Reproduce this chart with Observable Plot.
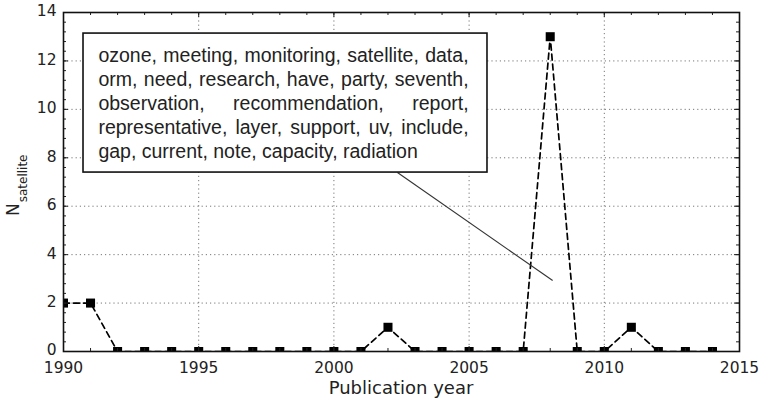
<!DOCTYPE html>
<html>
<head>
<meta charset="utf-8">
<script src="https://cdn.jsdelivr.net/npm/d3@7"></script>
<script src="https://cdn.jsdelivr.net/npm/@observablehq/plot@0.6"></script>
<style>
  html, body { margin: 0; padding: 0; background: #fff; }
</style>
</head>
<body>
<script>
// ---- data ----
const years  = [1990,1991,1992,1993,1994,1995,1996,1997,1998,1999,2000,2001,2002,2003,2004,2005,2006,2007,2008,2009,2010,2011,2012,2013,2014];
const counts = [2,2,0,0,0,0,0,0,0,0,0,0,1,0,0,0,0,0,13,0,0,1,0,0,0];
const xTickLabels = [1990,1995,2000,2005,2010,2015];
const yTickLabels = [0,2,4,6,8,10,12,14];
const keywordLines = [
  "ozone, meeting, monitoring, satellite, data,",
  "orm, need, research, have, party, seventh,",
  "observation, recommendation, report,",
  "representative, layer, support, uv, include,",
  "gap, current, note, capacity, radiation"
];
const xLabel = "Publication year";
const yLabelMain = "N";
const yLabelSub = "satellite";

// annotation anchors (data units)
const boxX = [1990.74, 2005.68];
const boxY = [7.39, 13.13];
const textX = [1991.29, 2004.98];
const textTopY = 12.22;
const textStepY = 0.99;
const arrowFrom = [2002.35, 7.39];
const arrowTo = [2008.09, 2.93];

const series = years.map((y, i) => ({year: y, n: counts[i]}));
const xMinor = d3.range(1990, 2016, 1);
const yMinor = d3.range(0, 14.001, 0.4);

const xDom = [1990, 2015], yDom = [0, 14];
const majX = 0.185, minX = 0.111, majY = 0.206, minY = 0.124;

const svg = Plot.plot({
  width: 760,
  height: 404,
  marginLeft: 63,
  marginRight: 21,
  marginTop: 12,
  marginBottom: 53,
  style: {fontFamily: "DejaVu Sans", fontSize: "15.5px", color: "#222", background: "#fff"},
  x: {domain: xDom, label: null},
  y: {domain: yDom, label: null},
  marks: [
    Plot.gridX(xTickLabels, {stroke: "#777", strokeOpacity: 1, strokeWidth: 1, strokeDasharray: "1.2,3"}),
    Plot.gridY(yTickLabels, {stroke: "#777", strokeOpacity: 1, strokeWidth: 1, strokeDasharray: "1.2,3"}),
    Plot.line(series, {x: "year", y: "n", stroke: "#000", strokeWidth: 1.7, strokeDasharray: "6,4", clip: true}),
    Plot.dot(series, {x: "year", y: "n", symbol: "square", r: 5.1, fill: "#000", stroke: "none", clip: true}),
    Plot.link([0], {x1: () => arrowFrom[0], y1: () => arrowFrom[1], x2: () => arrowTo[0], y2: () => arrowTo[1], stroke: "#333", strokeWidth: 1.1}),
    Plot.rect([0], {x1: () => boxX[0], x2: () => boxX[1], y1: () => boxY[0], y2: () => boxY[1], fill: "#fff", stroke: "#111", strokeWidth: 1.6}),
    Plot.text(keywordLines, {
      x: () => textX[0],
      y: (d, i) => textTopY - i * textStepY,
      text: d => d,
      textAnchor: "start",
      lineAnchor: "middle",
      fontFamily: "Liberation Sans",
      fontSize: 19.5,
      fill: "#222"
    }),
    // inward ticks
    Plot.ruleX(xMinor, {x: d => d, y1: () => 0, y2: () => minY, stroke: "#222", strokeWidth: 1}),
    Plot.ruleX(xMinor, {x: d => d, y1: () => 14, y2: () => 14 - minY, stroke: "#222", strokeWidth: 1}),
    Plot.ruleX(xTickLabels, {x: d => d, y1: () => 0, y2: () => majY, stroke: "#222", strokeWidth: 1}),
    Plot.ruleX(xTickLabels, {x: d => d, y1: () => 14, y2: () => 14 - majY, stroke: "#222", strokeWidth: 1}),
    Plot.ruleY(yMinor, {y: d => d, x1: () => 1990, x2: () => 1990 + minX, stroke: "#222", strokeWidth: 1}),
    Plot.ruleY(yMinor, {y: d => d, x1: () => 2015, x2: () => 2015 - minX, stroke: "#222", strokeWidth: 1}),
    Plot.ruleY(yTickLabels, {y: d => d, x1: () => 1990, x2: () => 1990 + majX, stroke: "#222", strokeWidth: 1}),
    Plot.ruleY(yTickLabels, {y: d => d, x1: () => 2015, x2: () => 2015 - majX, stroke: "#222", strokeWidth: 1}),
    Plot.frame({stroke: "#111", strokeWidth: 1.6}),
    Plot.axisX(xTickLabels, {tickSize: 0, tickPadding: 10, tickFormat: d => String(d), label: null, fill: "#222"}),
    Plot.axisY(yTickLabels, {tickSize: 0, tickPadding: 7, tickFormat: d => String(d), label: null, fill: "#222", dy: -1})
  ]
});
document.body.appendChild(svg);

// justify annotation lines (except the last) by placing each word
const xs = svg.scale("x");
const targetW = xs.apply(textX[1]) - xs.apply(textX[0]);
const ctx = document.createElement("canvas").getContext("2d");
ctx.font = "19.5px 'Liberation Sans'";
d3.select(svg).selectAll("text").each(function() {
  const t = this.textContent;
  const idx = keywordLines.indexOf(t);
  if (idx < 0 || idx === keywordLines.length - 1) return;
  const words = t.split(" ");
  if (words.length < 2) return;
  const widths = words.map(w => ctx.measureText(w).width);
  const total = d3.sum(widths);
  const gap = (targetW - total) / (words.length - 1);
  const x0 = +(this.getAttribute("x") || 0);
  this.textContent = "";
  let cx = x0;
  words.forEach((w, k) => {
    const ts = document.createElementNS("http://www.w3.org/2000/svg", "tspan");
    ts.setAttribute("x", cx);
    ts.textContent = w;
    this.appendChild(ts);
    cx += widths[k] + gap;
  });
});

// axis titles
const s = d3.select(svg);
const xr = svg.scale("x").range;
s.append("text")
  .attr("x", (xr[0] + xr[1]) / 2)
  .attr("y", 394)
  .attr("text-anchor", "middle")
  .attr("font-family", "DejaVu Sans")
  .attr("font-size", 18)
  .attr("fill", "#222")
  .text(xLabel);

const yt = s.append("text")
  .attr("transform", "translate(19,216) rotate(-90)")
  .attr("text-anchor", "start")
  .attr("font-family", "DejaVu Sans")
  .attr("font-size", 17)
  .attr("fill", "#222");
yt.append("tspan").text(yLabelMain);
yt.append("tspan").attr("font-size", 12).attr("dy", 8).attr("dx", 1).text(yLabelSub);
</script>
</body>
</html>
